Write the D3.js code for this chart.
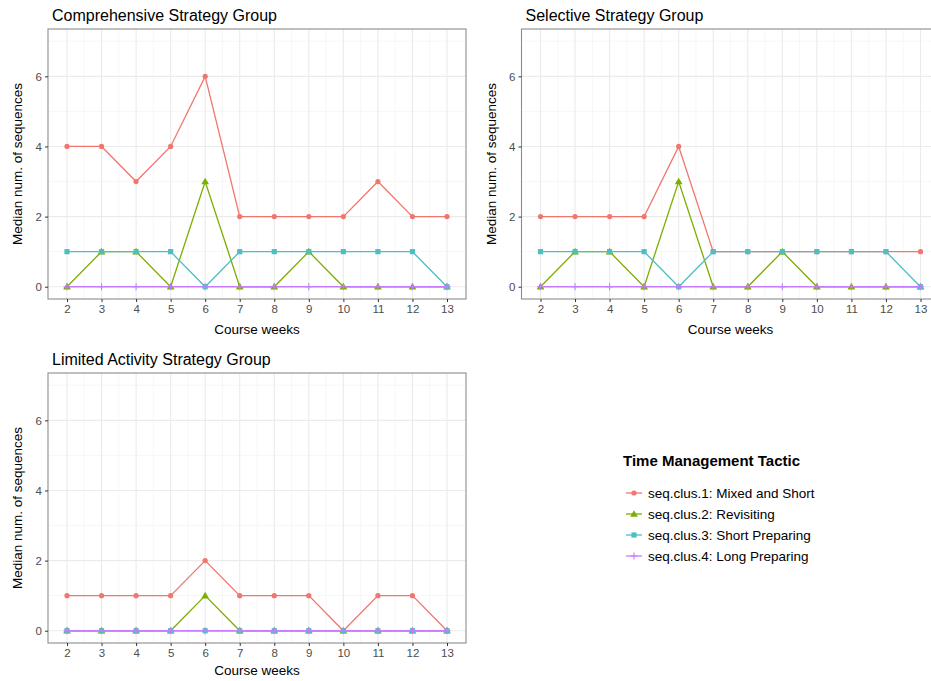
<!DOCTYPE html>
<html>
<head>
<meta charset="utf-8">
<script src="https://cdn.jsdelivr.net/npm/d3@7"></script>
<style>
  html, body { margin: 0; padding: 0; background: #fff; }
  svg { display: block; font-family: "Liberation Sans", Arial, Helvetica, sans-serif; }
</style>
</head>
<body>
<svg id="chart" width="931" height="681"></svg>
<script>
// Course weeks on the x axis
const weeks = [2, 3, 4, 5, 6, 7, 8, 9, 10, 11, 12, 13];
const yTicks = [0, 2, 4, 6];

// Tactic names (legend order) and their colours
const tactics = [
  "seq.clus.1: Mixed and Short",
  "seq.clus.2: Revisiting",
  "seq.clus.3: Short Preparing",
  "seq.clus.4: Long Preparing"
];
const tacticColors = ["#F0766E", "#7CAE00", "#4DBEC3", "#C77CFF"];
const tacticShapes = ["circle", "triangle", "square", "plus"];

// Median number of sequences per week, by strategy group and tactic
const comprehensive = [
  [4, 4, 3, 4, 6, 2, 2, 2, 2, 3, 2, 2],
  [0, 1, 1, 0, 3, 0, 0, 1, 0, 0, 0, 0],
  [1, 1, 1, 1, 0, 1, 1, 1, 1, 1, 1, 0],
  [0, 0, 0, 0, 0, 0, 0, 0, 0, 0, 0, 0]
];
const selective = [
  [2, 2, 2, 2, 4, 1, 1, 1, 1, 1, 1, 1],
  [0, 1, 1, 0, 3, 0, 0, 1, 0, 0, 0, 0],
  [1, 1, 1, 1, 0, 1, 1, 1, 1, 1, 1, 0],
  [0, 0, 0, 0, 0, 0, 0, 0, 0, 0, 0, 0]
];
const limited = [
  [1, 1, 1, 1, 2, 1, 1, 1, 0, 1, 1, 0],
  [0, 0, 0, 0, 1, 0, 0, 0, 0, 0, 0, 0],
  [0, 0, 0, 0, 0, 0, 0, 0, 0, 0, 0, 0],
  [0, 0, 0, 0, 0, 0, 0, 0, 0, 0, 0, 0]
];

const panels = [
  { title: "Comprehensive Strategy Group", data: comprehensive, left: 48, top: 29, xlab: 35 },
  { title: "Selective Strategy Group", data: selective, left: 521.5, top: 29, xlab: 35 },
  { title: "Limited Activity Strategy Group", data: limited, left: 48, top: 373, xlab: 32 }
];

const panelW = 418, panelH = 270;
const svg = d3.select("#chart");

function drawShape(g, shape, color, x, y) {
  if (shape === "circle") {
    g.append("circle").attr("cx", x).attr("cy", y).attr("r", 2.6).attr("fill", color);
  } else if (shape === "triangle") {
    g.append("path").attr("d", d3.symbol(d3.symbolTriangle, 26)())
      .attr("transform", `translate(${x},${y + 0.6})`).attr("fill", color);
  } else if (shape === "square") {
    g.append("rect").attr("x", x - 2.6).attr("y", y - 2.6).attr("width", 5.2).attr("height", 5.2).attr("fill", color);
  } else {
    g.append("path").attr("d", `M${x - 3.6},${y}H${x + 3.6}M${x},${y - 3.6}V${y + 3.6}`)
      .attr("stroke", color).attr("stroke-width", 1.1).attr("fill", "none");
  }
}

panels.forEach(p => {
  const x = d3.scaleLinear().domain([1.45, 13.55]).range([p.left, p.left + panelW]);
  const y = d3.scaleLinear().domain([-0.35, 7.35]).range([p.top + panelH, p.top]);
  const g = svg.append("g");

  // grid: minor then major
  const minorX = d3.range(2.5, 13, 1);
  const minorY = [1, 3, 5, 7];
  g.selectAll(".mx").data(minorX).join("line")
    .attr("x1", d => x(d)).attr("x2", d => x(d)).attr("y1", p.top).attr("y2", p.top + panelH)
    .attr("stroke", "#f2f2f2").attr("stroke-width", 0.6);
  g.selectAll(".my").data(minorY).join("line")
    .attr("y1", d => y(d)).attr("y2", d => y(d)).attr("x1", p.left).attr("x2", p.left + panelW)
    .attr("stroke", "#f2f2f2").attr("stroke-width", 0.6);
  g.selectAll(".gx").data(weeks).join("line")
    .attr("x1", d => x(d)).attr("x2", d => x(d)).attr("y1", p.top).attr("y2", p.top + panelH)
    .attr("stroke", "#ebebeb").attr("stroke-width", 1.1);
  g.selectAll(".gy").data(yTicks).join("line")
    .attr("y1", d => y(d)).attr("y2", d => y(d)).attr("x1", p.left).attr("x2", p.left + panelW)
    .attr("stroke", "#ebebeb").attr("stroke-width", 1.1);

  // lines, then points
  const line = d3.line().x((d, i) => x(weeks[i])).y(d => y(d));
  p.data.forEach((vals, k) => {
    g.append("path").datum(vals).attr("d", line)
      .attr("fill", "none").attr("stroke", tacticColors[k]).attr("stroke-width", 1.3);
  });
  p.data.forEach((vals, k) => {
    vals.forEach((v, i) => drawShape(g, tacticShapes[k], tacticColors[k], x(weeks[i]), y(v)));
  });

  // panel border
  g.append("rect").attr("x", p.left).attr("y", p.top).attr("width", panelW).attr("height", panelH)
    .attr("fill", "none").attr("stroke", "#8c8c8c").attr("stroke-width", 1.1);

  // axes
  const xAxis = d3.axisBottom(x).tickValues(weeks).tickSize(3).tickPadding(3).tickFormat(d3.format("d"));
  const yAxis = d3.axisLeft(y).tickValues(yTicks).tickSize(3).tickPadding(3).tickFormat(d3.format("d"));
  const gx = g.append("g").attr("transform", `translate(0,${p.top + panelH})`).call(xAxis);
  const gy = g.append("g").attr("transform", `translate(${p.left},0)`).call(yAxis);
  [gx, gy].forEach(a => {
    a.select(".domain").remove();
    a.selectAll(".tick line").attr("stroke", "#333").attr("stroke-width", 1);
    a.selectAll(".tick text").attr("fill", "#4d4d4d").style("font-size", "11.5px")
      .style("font-family", "\"Liberation Sans\", Arial, sans-serif");
  });

  // titles and axis labels
  g.append("text").attr("x", p.left + 4).attr("y", p.top - 8)
    .style("font-size", "16px").attr("fill", "#000").text(p.title);
  g.append("text").attr("x", p.left + panelW / 2).attr("y", p.top + panelH + p.xlab)
    .attr("text-anchor", "middle").style("font-size", "13.5px").attr("fill", "#000").text("Course weeks");
  g.append("text")
    .attr("transform", `translate(${p.left - 26},${p.top + panelH / 2}) rotate(-90)`)
    .attr("text-anchor", "middle").style("font-size", "13.5px").attr("fill", "#000")
    .text("Median num. of sequences");
});

// legend
const lg = svg.append("g").attr("transform", "translate(623,0)");
lg.append("text").attr("x", 0).attr("y", 466).style("font-size", "15px").style("font-weight", "bold")
  .attr("fill", "#000").text("Time Management Tactic");
tactics.forEach((name, k) => {
  const cy = 493 + k * 21;
  lg.append("line").attr("x1", 3).attr("x2", 19).attr("y1", cy).attr("y2", cy)
    .attr("stroke", tacticColors[k]).attr("stroke-width", 1.3);
  drawShape(lg, tacticShapes[k], tacticColors[k], 11, cy);
  lg.append("text").attr("x", 25).attr("y", cy + 5).style("font-size", "13.5px").attr("fill", "#000").text(name);
});
</script>
</body>
</html>
